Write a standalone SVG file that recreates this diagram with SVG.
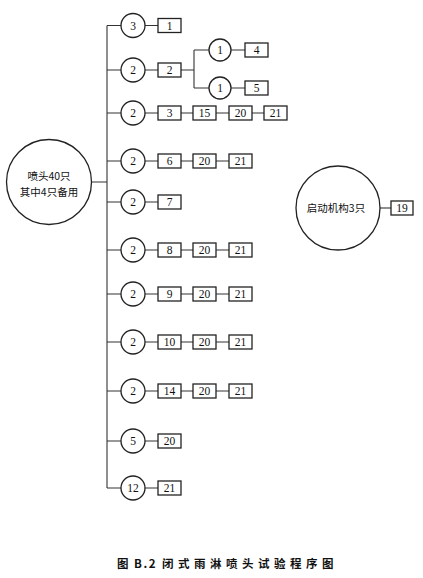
<svg xmlns="http://www.w3.org/2000/svg" width="423" height="578" viewBox="0 0 423 578">
<style>
.c{fill:#fff;stroke:#222;stroke-width:1.3}
.b{fill:#fff;stroke:#222;stroke-width:1.3}
.l{stroke:#333;stroke-width:1.1;fill:none}
.n{font-family:"Liberation Serif",serif;font-size:11.5px;fill:#111;text-anchor:middle;dominant-baseline:central}
.z{font-family:"Noto Sans CJK SC","Liberation Sans",sans-serif;font-size:10.5px;fill:#111;text-anchor:middle;dominant-baseline:central}
.cap{font-family:"Noto Sans CJK SC","Liberation Sans",sans-serif;font-size:11.5px;font-weight:bold;fill:#111}
</style>
<rect width="423" height="578" fill="#fff"/>
<g id="connectors">
<path class="l" d="M107 25.5V488M92 182H107"/>
<path class="l" d="M107 25.5H121M145 25.5H158"/>
<path class="l" d="M107 70H121M145 70H158M181 70H194M194 50V88M194 50H209M194 88H209M231 50H245M231 88H245"/>
<path class="l" d="M107 113H121M145 113H158M181 113H193M216 113H229M252 113H264"/>
<path class="l" d="M107 161H121M145 161H158M181 161H193M216 161H229"/>
<path class="l" d="M107 202H121M145 202H158"/>
<path class="l" d="M107 250H121M145 250H158M181 250H193M216 250H229"/>
<path class="l" d="M107 294H121M145 294H158M181 294H193M216 294H229"/>
<path class="l" d="M107 342H121M145 342H158M181 342H193M216 342H229"/>
<path class="l" d="M107 391H121M145 391H158M181 391H193M216 391H229"/>
<path class="l" d="M107 441H121M145 441H158"/>
<path class="l" d="M107 488H121M145 488H158"/>
<path class="l" d="M380 208H391"/>
</g>
<g id="main"><circle class="c" cx="49" cy="182" r="42.5"/><text class="z" x="49" y="175">喷头40只</text><text class="z" x="49" y="191">其中4只备用</text></g>
<g id="starter"><circle class="c" cx="338" cy="208" r="42"/><text class="z" x="336" y="207">启动机构3只</text></g>
<g id="b19"><rect class="b" x="391" y="201" width="22" height="14"/><text class="n" x="402" y="208">19</text></g>

<g id="r1"><circle class="c" cx="133" cy="25.5" r="12"/><text class="n" x="133" y="25.5">3</text><rect class="b" x="158" y="18.5" width="23" height="14"/><text class="n" x="169.5" y="25.5">1</text></g>

<g id="r2"><circle class="c" cx="133" cy="70" r="12"/><text class="n" x="133" y="70">2</text><rect class="b" x="158" y="63" width="23" height="14"/><text class="n" x="169.5" y="70">2</text></g>
<g id="r2a"><circle class="c" cx="220" cy="50" r="11"/><text class="n" x="220" y="50">1</text><rect class="b" x="245" y="43" width="23" height="14"/><text class="n" x="256.5" y="50">4</text></g>
<g id="r2b"><circle class="c" cx="220" cy="88" r="11"/><text class="n" x="220" y="88">1</text><rect class="b" x="245" y="81" width="23" height="14"/><text class="n" x="256.5" y="88">5</text></g>

<g id="r3"><circle class="c" cx="133" cy="113" r="12"/><text class="n" x="133" y="113">2</text>
<rect class="b" x="158" y="106" width="23" height="14"/><text class="n" x="169.5" y="113">3</text>
<rect class="b" x="193" y="106" width="23" height="14"/><text class="n" x="204.5" y="113">15</text>
<rect class="b" x="229" y="106" width="23" height="14"/><text class="n" x="240.5" y="113">20</text>
<rect class="b" x="264" y="106" width="23" height="14"/><text class="n" x="275.5" y="113">21</text></g>

<g id="r4"><circle class="c" cx="133" cy="161" r="12"/><text class="n" x="133" y="161">2</text>
<rect class="b" x="158" y="154" width="23" height="14"/><text class="n" x="169.5" y="161">6</text>
<rect class="b" x="193" y="154" width="23" height="14"/><text class="n" x="204.5" y="161">20</text>
<rect class="b" x="229" y="154" width="23" height="14"/><text class="n" x="240.5" y="161">21</text></g>

<g id="r5"><circle class="c" cx="133" cy="202" r="12"/><text class="n" x="133" y="202">2</text>
<rect class="b" x="158" y="195" width="23" height="14"/><text class="n" x="169.5" y="202">7</text></g>

<g id="r6"><circle class="c" cx="133" cy="250" r="12"/><text class="n" x="133" y="250">2</text>
<rect class="b" x="158" y="243" width="23" height="14"/><text class="n" x="169.5" y="250">8</text>
<rect class="b" x="193" y="243" width="23" height="14"/><text class="n" x="204.5" y="250">20</text>
<rect class="b" x="229" y="243" width="23" height="14"/><text class="n" x="240.5" y="250">21</text></g>

<g id="r7"><circle class="c" cx="133" cy="294" r="12"/><text class="n" x="133" y="294">2</text>
<rect class="b" x="158" y="287" width="23" height="14"/><text class="n" x="169.5" y="294">9</text>
<rect class="b" x="193" y="287" width="23" height="14"/><text class="n" x="204.5" y="294">20</text>
<rect class="b" x="229" y="287" width="23" height="14"/><text class="n" x="240.5" y="294">21</text></g>

<g id="r8"><circle class="c" cx="133" cy="342" r="12"/><text class="n" x="133" y="342">2</text>
<rect class="b" x="158" y="335" width="23" height="14"/><text class="n" x="169.5" y="342">10</text>
<rect class="b" x="193" y="335" width="23" height="14"/><text class="n" x="204.5" y="342">20</text>
<rect class="b" x="229" y="335" width="23" height="14"/><text class="n" x="240.5" y="342">21</text></g>

<g id="r9"><circle class="c" cx="133" cy="391" r="12"/><text class="n" x="133" y="391">2</text>
<rect class="b" x="158" y="384" width="23" height="14"/><text class="n" x="169.5" y="391">14</text>
<rect class="b" x="193" y="384" width="23" height="14"/><text class="n" x="204.5" y="391">20</text>
<rect class="b" x="229" y="384" width="23" height="14"/><text class="n" x="240.5" y="391">21</text></g>

<g id="r10"><circle class="c" cx="133" cy="441" r="12"/><text class="n" x="133" y="441">5</text>
<rect class="b" x="158" y="434" width="23" height="14"/><text class="n" x="169.5" y="441">20</text></g>

<g id="r11"><circle class="c" cx="133" cy="488" r="12"/><text class="n" x="133" y="488">12</text>
<rect class="b" x="158" y="481" width="23" height="14"/><text class="n" x="169.5" y="488">21</text></g>

<g id="caption">
<text class="cap" x="117" y="568" letter-spacing="1.5">图 B.2</text>
<text class="cap" x="162" y="568" letter-spacing="4.5">闭式雨淋喷头试验程序图</text>
</g>
</svg>
